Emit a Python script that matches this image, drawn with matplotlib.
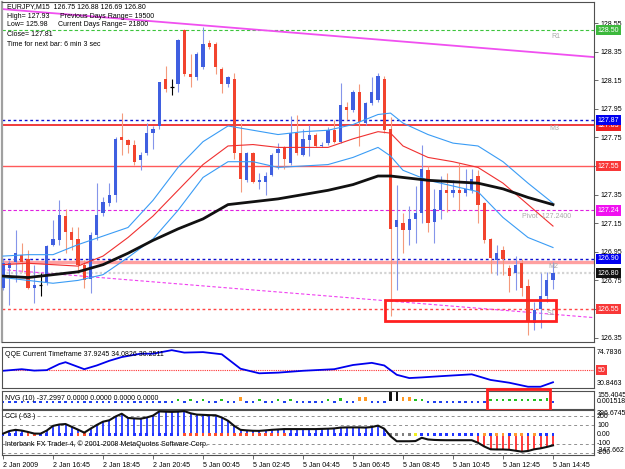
import matplotlib
matplotlib.use("Agg")
import matplotlib.pyplot as plt
import matplotlib.transforms as mtransforms
from matplotlib.patches import Rectangle
import numpy as np

W, H = 625, 469
FONT = "Liberation Sans"
FS = 5

# ---- EURJPY M15 bars (2 Jan 14:45 .. 5 Jan 14:45) ----
OPEN = [126.70, 126.84, 126.88, 126.93, 126.90, 126.70, 126.72, 126.73, 127.00, 127.03,
        127.20, 127.09, 127.04, 126.86, 126.76, 127.07, 127.22, 127.29, 127.35, 127.75,
        127.73, 127.70, 127.59, 127.64, 127.78, 127.83, 128.16, 128.10, 128.12, 128.50,
        128.19, 128.17, 128.24, 128.41, 128.40, 128.23, 128.12, 128.16, 127.64, 127.45,
        127.64, 127.44, 127.44, 127.49, 127.64, 127.68, 127.57, 127.78, 127.63, 127.73,
        127.77, 127.69, 127.71, 127.80, 127.72, 127.96, 127.94, 128.07, 127.85, 127.99,
        128.01, 128.16, 127.81, 127.12, 127.15, 127.10, 127.18, 127.22, 127.52, 127.16,
        127.24, 127.38, 127.36, 127.38, 127.36, 127.38, 127.48, 127.29, 127.04, 126.89,
        126.96, 126.84, 126.80, 126.87, 126.71, 126.45, 126.55, 126.64, 126.75]
HIGH = [126.90, 126.89, 127.10, 127.01, 126.96, 126.86, 126.80, 127.00, 127.17, 127.31,
        127.25, 127.12, 127.12, 126.89, 127.09, 127.43, 127.33, 127.43, 127.75, 127.92,
        127.74, 127.73, 127.65, 127.85, 127.83, 128.14, 128.25, 128.16, 128.44, 128.51,
        128.33, 128.35, 128.52, 128.43, 128.42, 128.24, 128.18, 128.20, 127.85, 127.65,
        127.65, 127.50, 127.51, 127.64, 127.71, 127.69, 127.90, 127.91, 127.81, 127.84,
        127.78, 127.72, 127.82, 127.87, 128.13, 128.00, 128.08, 128.12, 128.00, 128.17,
        128.20, 128.18, 127.89, 127.42, 127.22, 127.27, 127.41, 127.70, 127.55, 127.39,
        127.48, 127.50, 127.45, 127.57, 127.53, 127.53, 127.52, 127.30, 127.05, 127.00,
        126.99, 126.86, 126.92, 126.90, 126.76, 126.60, 126.80, 126.81, 126.88]
LOW = [126.68, 126.58, 126.74, 126.81, 126.69, 126.59, 126.64, 126.72, 126.99, 127.00,
       126.94, 126.96, 126.80, 126.70, 126.66, 127.03, 127.20, 127.27, 127.30, 127.63,
       127.64, 127.56, 127.52, 127.63, 127.67, 127.81, 128.07, 128.05, 128.07, 128.18,
       128.10, 128.15, 128.23, 128.37, 128.19, 128.06, 128.10, 127.60, 127.37, 127.44,
       127.43, 127.39, 127.35, 127.48, 127.53, 127.53, 127.56, 127.63, 127.62, 127.62,
       127.68, 127.68, 127.70, 127.71, 127.71, 127.87, 127.93, 127.69, 127.84, 127.98,
       128.00, 127.78, 126.50, 126.68, 126.94, 127.00, 127.01, 127.15, 127.09, 127.01,
       127.18, 127.23, 127.33, 127.24, 127.34, 127.36, 127.15, 127.01, 126.80, 126.79,
       126.79, 126.67, 126.68, 126.64, 126.37, 126.40, 126.42, 126.60, 126.69]
CLOSE = [126.87, 126.87, 126.94, 126.88, 126.70, 126.72, 126.72, 126.99, 127.04, 127.21,
         127.09, 127.03, 126.86, 126.75, 127.07, 127.21, 127.30, 127.35, 127.74, 127.73,
         127.70, 127.58, 127.63, 127.78, 127.81, 128.14, 128.09, 128.10, 128.43, 128.19,
         128.17, 128.33, 128.40, 128.38, 128.24, 128.12, 128.17, 127.64, 127.46, 127.64,
         127.44, 127.45, 127.48, 127.63, 127.67, 127.60, 127.78, 127.64, 127.74, 127.77,
         127.69, 127.70, 127.80, 127.72, 127.98, 127.94, 128.07, 127.86, 127.99, 128.07,
         128.18, 127.80, 127.11, 127.17, 127.10, 127.18, 127.22, 127.53, 127.15, 127.25,
         127.38, 127.36, 127.38, 127.36, 127.39, 127.46, 127.28, 127.03, 126.91, 126.94,
         126.90, 126.78, 126.86, 126.70, 126.46, 126.54, 126.64, 126.75, 126.80]

# moving averages / envelope, read at these bars
MA_BARS = [0, 4, 8, 12, 16, 20, 24, 28, 32, 36, 40, 44, 48, 52, 56, 60, 62, 64, 68, 72, 76, 80, 84, 88]
MA_SLOW = [126.78, 126.77, 126.79, 126.81, 126.86, 126.94, 127.03, 127.11, 127.18, 127.28, 127.30, 127.32,
           127.35, 127.38, 127.42, 127.48, 127.48, 127.47, 127.45, 127.44, 127.43, 127.39, 127.33, 127.28]
MA_FAST = [126.86, 126.87, 126.86, 126.85, 126.92, 127.05, 127.20, 127.38, 127.56, 127.69, 127.70, 127.68,
           127.68, 127.68, 127.74, 127.79, 127.78, 127.69, 127.61, 127.58, 127.54, 127.43, 127.28, 127.13]
ENV_UPPER = [126.92, 126.93, 126.93, 127.00, 127.06, 127.12, 127.31, 127.54, 127.72, 127.83, 127.80, 127.77,
             127.79, 127.80, 127.84, 127.91, 127.92, 127.85, 127.77, 127.71, 127.69, 127.58, 127.43, 127.29]
ENV_LOWER = [126.77, 126.75, 126.73, 126.75, 126.79, 126.91, 127.04, 127.24, 127.47, 127.58, 127.58, 127.54,
             127.55, 127.56, 127.61, 127.68, 127.62, 127.52, 127.45, 127.41, 127.37, 127.19, 127.05, 126.98]

# trend lines: price at bar 0 and at bar 88
TREND_TOP = (128.647, 128.335)
TREND_LOW = (126.825, 126.513)

PRICE_TICKS = [128.55, 128.35, 128.15, 127.95, 127.75, 127.55, 127.35, 127.15, 126.95, 126.75, 126.55, 126.35]
HIDDEN_TICKS = [127.55, 126.55]   # covered by the level boxes
BOX_BARS = (61.1, 88.4)
BOX_PRICES = (126.466, 126.613)

# ---- QQE ----
QQE_BARS = [0, 3, 5, 7, 9, 10, 13, 15, 17, 19, 22, 24, 27, 29, 32, 35, 38, 41, 44, 48, 53, 56, 59, 61,
            63, 65, 67, 70, 75, 78, 81, 84, 86, 88]
QQE_VALUES = [49.3, 51.0, 49.5, 50.0, 56.5, 58.5, 51.0, 55.0, 60.0, 64.0, 67.6, 67.6, 71.4, 68.8, 69.3,
              67.0, 51.5, 46.6, 47.3, 49.3, 51.0, 55.5, 57.8, 55.0, 45.0, 41.5, 42.2, 43.5, 45.5, 39.5,
              36.5, 32.2, 32.2, 37.0]

# ---- NVG histogram: kind per bar ----
NVG_KIND = ("bbbbbbbbbbbbbbbbbbbbbbbbbbbb" "gbgbgbbgbb" "obbgbbgbgb" "bbbbgbGbbo" "obbbkkoogg"
            "bbbbbbbbbb" "ggggggggg" "Gb")
NVG_HEIGHT = {"b": -28, "g": 30, "G": 50, "o": 60, "k": 150}

# ---- CCI(63) ----
CCI = [7, 35, 48, 40, 25, 8, 7, 40, 90, 105, 110, 80, 50, 18, 60, 100, 135, 150, 190, 220,
       175, 170, 167, 180, 200, 245, 242, 240, 242, 248, 225, 211, 208, 205, 204, 180, 145, 90, 48, 42,
       38, 37, 42, 48, 52, 56, 56, 56, 56, 56, 56, 58, 60, 63, 72, 74, 74, 74, 72, 78,
       93, 60, -20, -74, -74, -74, -72, -37, -55, -60, -62, -63, -63, -63, -63, -63, -90, -130, -160, -162,
       -162, -165, -175, -185, -178, -160, -150, -135, -118]
CCI_HIST = ("bbbbbbbbbbbbbbbbbbbbbbbbbbbbbbbbbbbbbbbbbbbbbbbbbbbbbbbbbbbbbb"
            "--------------" "rrrrrrrrrrrrr")
CCI_DOTS = ("bbbbrrbbbbbbrrbbbbbbbbbbbbbbbrrrrrrrrrrrrrrrrr" "bbbbbbbbbbbbbbbb"
            "xxxxybbbbbbbbb" "bobooboobobbb")
CCI_LEVELS = [200, 100, -100, -200]

TIME_BARS = [0, 8, 16, 24, 32, 40, 48, 56, 64, 72, 80, 88]
TIME_LABELS = ["2 Jan 2009", "2 Jan 16:45", "2 Jan 18:45", "2 Jan 20:45", "5 Jan 00:45", "5 Jan 02:45",
               "5 Jan 04:45", "5 Jan 06:45", "5 Jan 08:45", "5 Jan 10:45", "5 Jan 12:45", "5 Jan 14:45"]

# pixel layout of the terminal window
BAR_PX, FIRST_PX, RIGHT_PX = 6.25, 3.0, 594.0
XLIM = ((2 - FIRST_PX) / BAR_PX, (RIGHT_PX - FIRST_PX) / BAR_PX)


def px_rect(x0, y0, x1, y1):
    return [x0 / W, 1 - y1 / H, (x1 - x0) / W, (y1 - y0) / H]


def frame(ax):
    for s in ax.spines.values():
        s.set_color("#505050")
        s.set_linewidth(0.8)
    ax.set_xlim(*XLIM)
    ax.set_xticks([])
    ax.set_facecolor("white")


def ptext(fig, x, y, s, **kw):
    opts = dict(fontsize=FS, family=FONT, va="center", ha="left")
    opts.update(kw)
    return fig.text(x / W, 1 - y / H, s, **opts)


def price_box(ax, price, text, bg, fg="white"):
    trans = mtransforms.blended_transform_factory(ax.transAxes, ax.transData)
    ax.text(1.006, price, text, transform=trans, fontsize=FS, family=FONT, color=fg,
            va="center", ha="left", clip_on=False, zorder=20,
            bbox=dict(boxstyle="square,pad=0.25", fc=bg, ec="none"))


def draw_main(fig):
    ax = fig.add_axes(px_rect(2, 2, RIGHT_PX, 342))
    frame(ax)
    ax.spines["left"].set_color("#a0a0a0")
    ax.spines["left"].set_linewidth(1.6)
    ax.set_ylim(127.55 - 176 / 143, 127.55 + 164 / 143)

    idx = np.arange(len(OPEN))
    o, h, l, c = map(np.array, (OPEN, HIGH, LOW, CLOSE))
    up = c > o
    down = c < o
    doji = c == o

    wick_col = np.where(up, "#8595ea", np.where(down, "#f49a7c", "#000000"))
    ax.vlines(idx, l, h, colors=wick_col, lw=0.8, zorder=3)
    body_lo = np.minimum(o, c)
    body_h = np.abs(c - o)
    ax.bar(idx[up], body_h[up], bottom=body_lo[up], width=0.5, color="#3f5fe0", lw=0, zorder=3.2)
    ax.bar(idx[down], body_h[down], bottom=body_lo[down], width=0.5, color="#f2442e", lw=0, zorder=3.2)
    ax.hlines(c[doji], idx[doji] - 0.3, idx[doji] + 0.3, colors="black", lw=0.9, zorder=3.2)

    # indicators
    ax.plot(MA_BARS, ENV_UPPER, color="#3a9cf5", lw=0.8, zorder=4)
    ax.plot(MA_BARS, ENV_LOWER, color="#3a9cf5", lw=0.8, zorder=4)
    ax.plot(MA_BARS, MA_FAST, color="#f03030", lw=0.8, zorder=4)
    ax.plot(MA_BARS, MA_SLOW, color="#111111", lw=2.0, zorder=4.1)

    # horizontal levels
    ax.axhline(128.50, color="#3cc43c", ls=(0, (3, 2)), lw=0.8, zorder=2)
    ax.axhline(127.87, color="#1010d0", ls=(0, (2, 2)), lw=1.0, zorder=2)
    ax.axhline(127.835, color="#ee1a1a", lw=1.2, zorder=2)
    ax.axhline(127.55, color="#ff5a5a", lw=1.0, zorder=2)
    ax.axhline(127.24, color="#e020e0", ls=(0, (3, 2)), lw=0.8, zorder=2)
    ax.axhline(126.90, color="#1010d0", ls=(0, (2, 2)), lw=1.0, zorder=2)
    ax.axhline(126.877, color="#ffa0a0", lw=2.4, zorder=1.9)
    ax.axhline(126.80, color="#d4d4d4", ls=(0, (1, 1)), lw=1.6, zorder=1.9)
    ax.axhline(126.55, color="#ff4646", ls=(0, (2, 2)), lw=1.0, zorder=2)
    ax.axline((0, TREND_TOP[0]), (88, TREND_TOP[1]), color="#f050f0", lw=1.3, zorder=2)
    ax.axline((0, TREND_LOW[0]), (88, TREND_LOW[1]), color="#f040f0", ls=(0, (3, 2)), lw=0.8, zorder=2)

    ax.add_patch(Rectangle((BOX_BARS[0], BOX_PRICES[0]), BOX_BARS[1] - BOX_BARS[0],
                           BOX_PRICES[1] - BOX_PRICES[0], fill=False, ec="#ff2020", lw=2.0, zorder=5))

    ax.yaxis.tick_right()
    ax.set_yticks(PRICE_TICKS)
    ax.set_yticklabels(["" if v in HIDDEN_TICKS else f"{v:.2f}" for v in PRICE_TICKS])
    ax.tick_params(axis="y", direction="out", length=3, width=0.6, pad=1.5, color="#505050",
                   labelsize=FS)
    for t in ax.get_yticklabels():
        t.set_family(FONT)

    price_box(ax, 128.50, "128.50", "#3cb83c")
    price_box(ax, 127.83, "127.83", "#ee2020")
    price_box(ax, 127.87, "127.87", "#0000f0")
    price_box(ax, 127.55, "127.55", "#f83838")
    price_box(ax, 127.24, "127.24", "#f010f0")
    price_box(ax, 126.90, "126.90", "#0000f0")
    price_box(ax, 126.80, "126.80", "#101010")
    price_box(ax, 126.55, "126.55", "#f83838")
    return ax


def draw_qqe(fig):
    ax = fig.add_axes(px_rect(2, 347, RIGHT_PX, 388))
    frame(ax)
    ax.set_ylim(30.8463, 74.7836)
    ax.set_yticks([])
    ax.axhline(50, color="#ff3030", ls=(0, (1, 1)), lw=0.8)
    ax.plot(QQE_BARS, QQE_VALUES, color="#0000ee", lw=1.3)
    price_box(ax, 50, "50", "#f83838")
    return ax


def draw_nvg(fig):
    ax = fig.add_axes(px_rect(2, 390.5, RIGHT_PX, 408.5))
    frame(ax)
    ax.set_ylim(-100, 155.4)
    ax.set_yticks([])
    colors = {"b": "#2040f0", "g": "#22c022", "G": "#22c022", "o": "#ff9922", "k": "#111111"}
    idx = np.arange(len(NVG_KIND))
    ax.bar(idx, [NVG_HEIGHT[k] for k in NVG_KIND], width=0.4,
           color=[colors[k] for k in NVG_KIND], lw=0)
    trans = mtransforms.blended_transform_factory(ax.transData, ax.transAxes)
    ax.add_patch(Rectangle((77.4, -0.1), 10.1, 1.2, transform=trans, fill=False,
                           ec="#ff2020", lw=2.0, clip_on=False, zorder=5))
    return ax


def draw_cci(fig):
    ax = fig.add_axes(px_rect(2, 410, RIGHT_PX, 455))
    frame(ax)
    ax.set_ylim(-221, 260)
    ax.set_yticks([])
    for lv in CCI_LEVELS:
        ax.axhline(lv, color="#909090", ls=(0, (3, 3)), lw=0.7)
    idx = np.arange(len(CCI))
    vals = np.array(CCI)
    kinds = np.array(list(CCI_HIST))
    for kind, col in (("b", "#2035ff"), ("r", "#ff2a2a")):
        sel = kinds == kind
        ax.vlines(idx[sel], 0, vals[sel], colors=col, lw=1.3)
    dot_cols = {"b": "#2035ff", "r": "#ff5030", "o": "#ff9a30", "x": "#808080", "y": "#f0f020"}
    ax.scatter(idx, np.zeros(len(idx)), marker="s", s=4.5, lw=0,
               c=[dot_cols[k] for k in CCI_DOTS], zorder=3)
    ax.plot(idx, vals, color="#111111", lw=1.5, zorder=4)

    ax.set_xticks(TIME_BARS)
    ax.set_xticklabels(TIME_LABELS)
    ax.tick_params(axis="x", direction="out", length=3, width=0.6, pad=2, color="#505050", labelsize=FS)
    for t in ax.get_xticklabels():
        t.set_family(FONT)
        t.set_ha("left")
    return ax


def main():
    fig = plt.figure(figsize=(W / 100, H / 100), dpi=100, facecolor="white")
    draw_main(fig)
    draw_qqe(fig)
    draw_nvg(fig)
    draw_cci(fig)

    # chart info block
    ptext(fig, 7, 7, "EURJPY,M15  126.75 126.88 126.69 126.80")
    ptext(fig, 7, 16, "High= 127.93")
    ptext(fig, 60, 16, "Previous Days Range= 19500")
    ptext(fig, 7, 25, "Low= 125.98")
    ptext(fig, 58, 25, "Current Days Range= 21800")
    ptext(fig, 7, 34.5, "Close= 127.81")
    ptext(fig, 7, 44, "Time for next bar: 6 min 3 sec")

    grey = "#a8a8a8"
    ptext(fig, 551, 36, "R1", color=grey)
    ptext(fig, 549, 128, "M3", color=grey)
    ptext(fig, 522, 216, "Pivot  127.2400", color=grey)
    ptext(fig, 548, 266, "M2", color=grey)
    ptext(fig, 547, 313, "S1", color=grey)

    ptext(fig, 5, 354, "QQE Current Timeframe 37.9245 34.0826 30.2511")
    ptext(fig, 5, 398, "NVG (10) -37.2997 0.0000 0.0000 0.0000 0.0000")
    ptext(fig, 5, 416, "CCI ( 63 )")
    ptext(fig, 5, 444, "Interbank FX Trader 4, \u00a9 2001-2008 MetaQuotes Software Corp.")

    for y, s in ((353, "74.7836"), (383, "30.8463"), (395, "155.4045"), (401, "0.001518"),
                 (413, "396.6745"), (416, "200"), (425, "100"), (434, "0.00"), (443, "-100"),
                 (452, "-200"), (450, "-247.662")):
        ptext(fig, 597, y, s)

    fig.savefig("out.png", dpi=100, facecolor="white")


if __name__ == "__main__":
    main()
